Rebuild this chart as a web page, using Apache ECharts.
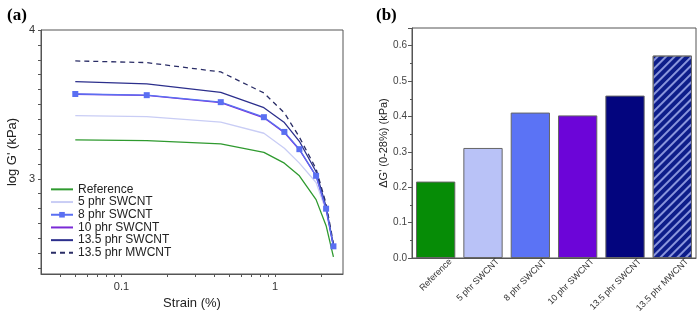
<!DOCTYPE html>
<html>
<head>
<meta charset="utf-8">
<script src="https://cdn.jsdelivr.net/npm/echarts@6/dist/echarts.min.js"></script>
<style>
  html, body { margin: 0; padding: 0; background: #fff; }
  #chart { width: 700px; height: 316px; }
</style>
</head>
<body>
<div id="chart"></div>
<script>
// (a) strain sweep, log G' vs strain
var strain = [0.05, 0.146, 0.443, 0.846, 1.15, 1.44, 1.85, 2.15, 2.40];
var gReference = [3.262, 3.257, 3.235, 3.177, 3.105, 3.020, 2.860, 2.685, 2.475];
var g5phr = [3.425, 3.418, 3.381, 3.306, 3.205, 3.105, 2.975, 2.785, 2.540];
var g8phr = [3.570, 3.562, 3.515, 3.414, 3.315, 3.199, 3.020, 2.799, 2.546];
var g10phr = [3.568, 3.560, 3.512, 3.410, 3.310, 3.195, 3.018, 2.797, 2.546];
var g135sw = [3.653, 3.638, 3.581, 3.478, 3.378, 3.252, 3.047, 2.812, 2.550];
var g135mw = [3.792, 3.781, 3.718, 3.577, 3.443, 3.280, 3.067, 2.832, 2.565];
var lineNames = ['Reference', '5 phr SWCNT', '8 phr SWCNT', '10 phr SWCNT', '13.5 phr SWCNT', '13.5 phr MWCNT'];
var lineColors = ['#2f9a2f', '#c9cdf5', '#5a6ff2', '#7a2ad6', '#2c2f8c', '#2a2d66'];

var xLabelValues = [0.1, 1];
var xTickValues = [0.04, 0.05, 0.06, 0.07, 0.08, 0.09, 0.1, 0.2, 0.3, 0.4, 0.5, 0.6, 0.7, 0.8, 0.9, 1, 2];
var yLabelValues = [3, 4];
var yTickValues = [2.4, 2.5, 2.6, 2.7, 2.8, 2.9, 3, 3.1, 3.2, 3.3, 3.4, 3.5, 3.6, 3.7, 3.8, 3.9, 4];

// (b) bar chart
var barCats = ['Reference', '5 phr SWCNT', '8 phr SWCNT', '10 phr SWCNT', '13.5 phr SWCNT', '13.5 phr MWCNT'];
var barVals = [0.216, 0.311, 0.411, 0.403, 0.459, 0.572];
var barColors = ['#068c06', '#b9c2f7', '#5b73f5', '#6c05d8', '#03057e', '#0d1d8a'];

var lg = Math.log10;
var chart = echarts.init(document.getElementById('chart'));
var font = 'Liberation Sans, Arial, sans-serif';

var lineData = [gReference, g5phr, g8phr, g10phr, g135sw, g135mw];
var lineSeries = lineData.map(function (vals, i) {
  return {
    name: lineNames[i],
    type: 'line',
    xAxisIndex: 0,
    yAxisIndex: 0,
    data: strain.map(function (s, j) { return [lg(s), vals[j]]; }),
    symbol: i === 2 ? 'rect' : 'none',
    symbolSize: 6,
    z: i === 2 ? 5 : 3,
    itemStyle: { color: lineColors[i] },
    lineStyle: { width: 1.3, color: lineColors[i], type: i === 5 ? [5, 4] : 'solid' },
    animation: false
  };
});

// legend: only the 8 phr entry keeps its marker
var legendData = lineNames.map(function (n, i) {
  return i === 2 ? { name: n } : { name: n, itemStyle: { opacity: 0 } };
});

var barData = barVals.map(function (v, i) {
  var item = { value: v, itemStyle: { color: barColors[i] } };
  if (i === 5) {
    item.itemStyle.decal = {
      symbol: 'rect',
      dashArrayX: [1, 0],
      dashArrayY: [1.5, 3.5],
      rotation: -Math.PI / 4,
      color: 'rgba(190,200,255,0.7)'
    };
  }
  return item;
});

var option = {
  backgroundColor: '#fff',
  title: [
    { text: '(a)', left: 2, top: 2, textStyle: { fontFamily: 'Liberation Serif, serif', fontSize: 17, fontWeight: 'bold', color: '#000' } },
    { text: '(b)', left: 371, top: 2, textStyle: { fontFamily: 'Liberation Serif, serif', fontSize: 17, fontWeight: 'bold', color: '#000' } }
  ],
  legend: {
    data: legendData,
    orient: 'vertical',
    left: 50,
    top: 183,
    padding: 0,
    itemWidth: 22,
    itemHeight: 7,
    itemGap: 0,
    textStyle: { fontFamily: font, fontSize: 12, color: '#222', lineHeight: 12.7 }
  },
  grid: [
    { left: 41, top: 30, right: 357, bottom: 42, show: true, borderColor: '#555', borderWidth: 1 },
    { left: 412, top: 28, right: 4, bottom: 58, show: true, borderColor: '#555', borderWidth: 1 }
  ],
  xAxis: [
    {
      type: 'value', gridIndex: 0,
      min: lg(0.0299), max: lg(2.77),
      name: 'Strain (%)', nameLocation: 'middle', nameGap: 23,
      nameTextStyle: { fontFamily: font, fontSize: 13, color: '#222' },
      axisLine: { onZero: false, lineStyle: { color: '#555' } },
      axisTick: { length: 3, lineStyle: { color: '#555' }, customValues: xTickValues.map(lg) },
      axisLabel: {
        fontFamily: font, fontSize: 11, color: '#333', margin: 7,
        customValues: xLabelValues.map(lg),
        formatter: function (v) { return String(Math.round(Math.pow(10, v) * 10) / 10); }
      },
      splitLine: { show: false }
    },
    {
      type: 'category', gridIndex: 1, data: barCats,
      axisLine: { lineStyle: { color: '#555' } },
      axisTick: { show: false },
      axisLabel: { rotate: 45, interval: 0, fontFamily: font, fontSize: 9, color: '#333', margin: 17, padding: [0, -21, 0, 0] }
    }
  ],
  yAxis: [
    {
      type: 'value', gridIndex: 0,
      min: 2.36, max: 4,
      name: "log G' (kPa)", nameLocation: 'middle', nameGap: 22, nameRotate: 90,
      nameTextStyle: { fontFamily: font, fontSize: 13, color: '#222' },
      axisLine: { show: true, onZero: false, lineStyle: { color: '#555' } },
      axisTick: { show: true, length: 3, lineStyle: { color: '#555' }, customValues: yTickValues },
      axisLabel: { fontFamily: font, fontSize: 11, color: '#333', margin: 6, customValues: yLabelValues },
      splitLine: { show: false }
    },
    {
      type: 'value', gridIndex: 1,
      min: 0, max: 0.65, interval: 0.1,
      name: "ΔG' (0-28%) (kPa)", nameLocation: 'middle', nameGap: 21, nameRotate: 90,
      nameTextStyle: { fontFamily: font, fontSize: 11, color: '#222' },
      axisLine: { show: true, lineStyle: { color: '#555' } },
      axisTick: { show: true, length: 4, lineStyle: { color: '#555' } },
      minorTick: { show: true, splitNumber: 2, length: 2, lineStyle: { color: '#555' } },
      axisLabel: { fontFamily: font, fontSize: 10, color: '#444', margin: 5, showMaxLabel: false,
        formatter: function (v) { return v.toFixed(1); } },
      splitLine: { show: false }
    }
  ],
  series: lineSeries.concat([{
    type: 'bar',
    xAxisIndex: 1,
    yAxisIndex: 1,
    data: barData,
    barCategoryGap: '17%',
    itemStyle: { borderColor: '#666', borderWidth: 1 },
    animation: false
  }])
};

chart.setOption(option);
</script>
</body>
</html>
